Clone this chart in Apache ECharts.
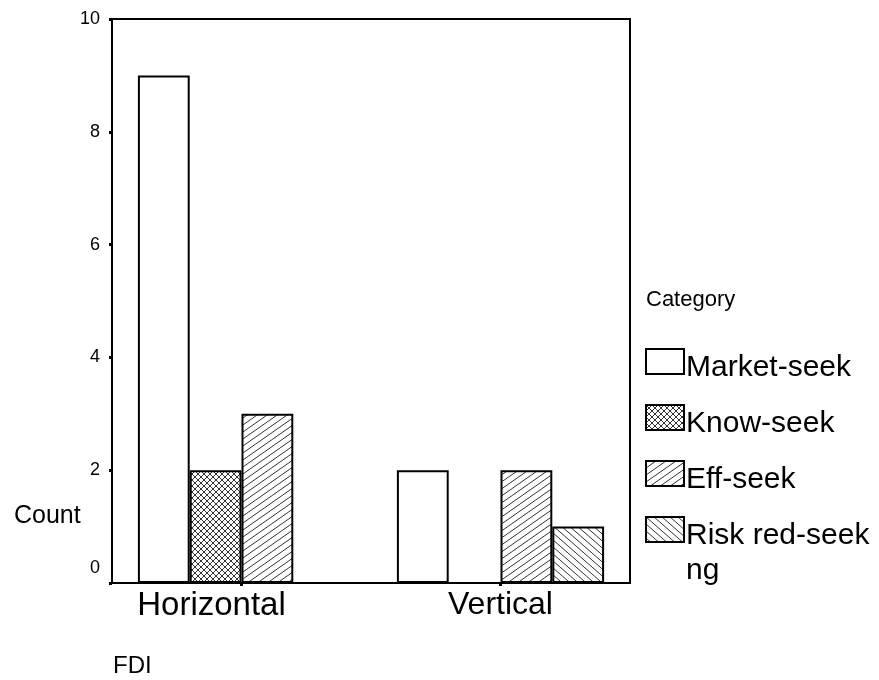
<!DOCTYPE html>
<html>
<head>
<meta charset="utf-8">
<script src="https://cdn.jsdelivr.net/npm/echarts@6/dist/echarts.min.js"></script>
<style>
html,body{margin:0;padding:0;background:#fff;}
#chart{width:879px;height:680px;}
</style>
</head>
<body>
<div id="chart"></div>
<script>
// ---- data ----
const categories = ['Horizontal', 'Vertical'];
const seriesNames = ['Market-seek', 'Know-seek', 'Eff-seek', 'Risk red-seek'];
const marketSeek = [9, 2];
const knowSeek = [2, 0];
const effSeek = [3, 2];
const riskRedSeek = [0, 1];
const yMin = 0, yMax = 10, yStep = 2;
const yAxisName = 'Count';
const xAxisName = 'FDI';
const legendTitle = 'Category';
const legendWrapTail = 'ng';

// ---- hatch patterns ----
function makePattern(kind) {
  const c = document.createElement('canvas');
  let w = 6, h = 6;
  if (kind === 'fwd') { w = 10; h = 7; }
  if (kind === 'back') { w = 8; h = 7; }
  c.width = w; c.height = h;
  const ctx = c.getContext('2d');
  ctx.fillStyle = '#ffffff';
  ctx.fillRect(0, 0, w, h);
  ctx.strokeStyle = '#333333';
  ctx.lineWidth = 1;
  const lines = [];
  if (kind === 'fwd' || kind === 'cross') lines.push([0, h, w, 0]);
  if (kind === 'back' || kind === 'cross') lines.push([0, 0, w, h]);
  for (const [x1, y1, x2, y2] of lines) {
    for (let dx = -w; dx <= w; dx += w) {
      for (let dy = -h; dy <= h; dy += h) {
        ctx.beginPath();
        ctx.moveTo(x1 + dx, y1 + dy);
        ctx.lineTo(x2 + dx, y2 + dy);
        ctx.stroke();
      }
    }
  }
  return c;
}
const fills = [
  '#ffffff',
  { image: makePattern('cross'), repeat: 'repeat' },
  { image: makePattern('fwd'), repeat: 'repeat' },
  { image: makePattern('back'), repeat: 'repeat' }
];
const seriesData = [marketSeek, knowSeek, effSeek, riskRedSeek];

const FONT = 'Liberation Sans, Arial, sans-serif';
const chart = echarts.init(document.getElementById('chart'), null, { renderer: 'canvas' });

const option = {
  backgroundColor: '#ffffff',
  animation: false,
  grid: {
    left: 112, top: 19, right: 249, bottom: 97,
    show: true, borderColor: '#000', borderWidth: 2, backgroundColor: 'transparent'
  },
  legend: {
    orient: 'vertical',
    left: 645, top: 340, padding: 0,
    itemWidth: 38, itemHeight: 25, itemGap: 13,
    icon: 'rect',
    data: seriesNames,
    itemStyle: { borderColor: '#000', borderWidth: 2 },
    formatter: name => '{a|' + name + '}',
    textStyle: {
      fontFamily: FONT, fontSize: 30, color: '#000',
      rich: { a: { fontFamily: FONT, fontSize: 30, color: '#000', lineHeight: 25, padding: [13, 0, 0, -3] } }
    }
  },
  xAxis: {
    type: 'category',
    data: categories,
    axisLine: { lineStyle: { color: '#000', width: 2 } },
    axisTick: { show: true, alignWithLabel: true, length: 3, lineStyle: { color: '#000', width: 3 } },
    axisLabel: {
      fontFamily: FONT, fontSize: 32, color: '#000', margin: 6,
      formatter: (v, i) => (i === 0 ? '{h|' + v + '}' : '{v|' + v + '}'),
      rich: {
        h: { fontFamily: FONT, fontSize: 33, color: '#000', padding: [0, 60, 0, 0] },
        v: { fontFamily: FONT, fontSize: 32, color: '#000' }
      }
    },
    splitLine: { show: false }
  },
  yAxis: {
    type: 'value',
    min: yMin, max: yMax, interval: yStep,
    axisLine: { show: true, lineStyle: { color: '#000', width: 2 } },
    axisTick: { show: true, length: 3, lineStyle: { color: '#000', width: 3 } },
    axisLabel: {
      fontFamily: FONT, fontSize: 18, color: '#000', margin: 12,
      formatter: v => (v === 0 ? '{z|' + v + '}' : String(v)),
      rich: { z: { fontFamily: FONT, fontSize: 18, color: '#000', padding: [0, 0, 30, 0] } }
    },
    splitLine: { show: false }
  },
  series: seriesNames.map((name, i) => ({
    name: name,
    type: 'bar',
    data: seriesData[i],
    barGap: '0%',
    barCategoryGap: '20%',
    itemStyle: { color: fills[i], borderColor: '#000', borderWidth: 2 },
    emphasis: { disabled: true }
  })),
  graphic: [
    { type: 'text', left: 14, top: 504, style: { text: yAxisName, font: '25px ' + FONT, fill: '#000' } },
    { type: 'text', left: 113, top: 654, style: { text: xAxisName, font: '24px ' + FONT, fill: '#000' } },
    { type: 'text', left: 646, top: 289, style: { text: legendTitle, font: '22px ' + FONT, fill: '#000' } },
    { type: 'text', left: 686, top: 556, style: { text: legendWrapTail, font: '30px ' + FONT, fill: '#000' } }
  ]
};
chart.setOption(option);
</script>
</body>
</html>
